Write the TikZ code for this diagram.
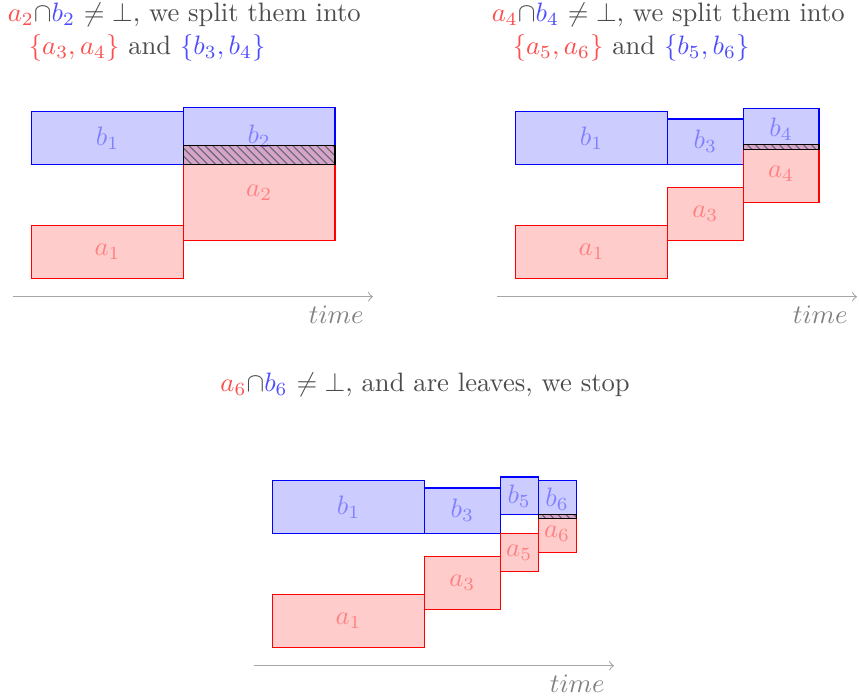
\documentclass[tikz,border=0pt]{standalone}
\usepackage{amsmath,amssymb}
\usetikzlibrary{patterns}

\tikzset{
  ajob/.style={draw=red, fill=red, fill opacity=0.2, text opacity=1, text=red!50, inner sep=0pt, outer sep=0pt},
  bjob/.style={draw=blue, fill=blue, fill opacity=0.2, text opacity=1, text=blue!50, inner sep=0pt, outer sep=0pt},
  overlap/.style={draw=black, pattern=north west lines, pattern color=black!60},
  timeline/.style={->, draw=black!35},
  timelabel/.style={text=black!50},
  caption/.style={anchor=base west, inner sep=0pt, text=black!70}
}
\newcommand{\ared}[1]{{\color{red!70}$#1$}}
\newcommand{\bblue}[1]{{\color{blue!70}$#1$}}

\begin{document}
\begin{tikzpicture}
\useasboundingbox (0,0) rectangle (11.333,-9.235);

% first split
\node[caption] (c1) at (0.097,-0.28) {\ared{a_2}$\cap$\bblue{b_2} $\neq\bot$, we split them into};
\node[caption] (c1b) at (0.374,-0.72) {\ared{\{a_3,a_4\}} and \bblue{\{b_3,b_4\}}};

\node[bjob, minimum width=2cm, minimum height=0.7cm] (b1) at (1.42,-1.82) {$b_1$};
\node[bjob, minimum width=2cm, minimum height=0.75cm] (b2) at (3.42,-1.795) {$b_2$};
\node[ajob, minimum width=2cm, minimum height=0.7cm] (a1) at (1.42,-3.32) {$a_1$};
\node[ajob, minimum width=2cm, minimum height=1.25cm] (a2) at (3.42,-2.545) {$a_2$};
\draw[overlap] (a2.north west) rectangle (b2.south east);

\coordinate (t0) at (0.17,-3.915);
\coordinate (t1) at (4.92,-3.915);
\draw[timeline] (t0) -- (t1) node[below left, timelabel] (tl) {$time$};

% second split
\begin{scope}[shift={(6.385,0)}]
\node[caption] (c2) at (0.097,-0.28) {\ared{a_4}$\cap$\bblue{b_4} $\neq\bot$, we split them into};
\node[caption] (c2b) at (0.374,-0.72) {\ared{\{a_5,a_6\}} and \bblue{\{b_5,b_6\}}};

\node[bjob, minimum width=2cm, minimum height=0.7cm] (b1r) at (1.42,-1.82) {$b_1$};
\node[bjob, minimum width=1cm, minimum height=0.6cm] (b3r) at (2.92,-1.87) {$b_3$};
\node[bjob, minimum width=1cm, minimum height=0.54cm] (b4r) at (3.92,-1.70) {$b_4$};
\node[ajob, minimum width=2cm, minimum height=0.7cm] (a1r) at (1.42,-3.32) {$a_1$};
\node[ajob, minimum width=1cm, minimum height=0.7cm] (a3r) at (2.92,-2.82) {$a_3$};
\node[ajob, minimum width=1cm, minimum height=0.76cm] (a4r) at (3.92,-2.29) {$a_4$};
\draw[overlap] (a4r.north west) rectangle (b4r.south east);

\coordinate (t0r) at (0.17,-3.915);
\coordinate (t1r) at (4.92,-3.915);
\draw[timeline] (t0r) -- (t1r) node[below left, timelabel] (tlr) {$time$};
\end{scope}

% leaves
\begin{scope}[shift={(3.18,-4.868)}]
\node[caption] (c3) at (-0.278,-0.299) {\ared{a_6}$\cap$\bblue{b_6} $\neq\bot$, and are leaves, we stop};

\node[bjob, minimum width=2cm, minimum height=0.7cm] (b1b) at (1.42,-1.82) {$b_1$};
\node[bjob, minimum width=1cm, minimum height=0.6cm] (b3b) at (2.92,-1.87) {$b_3$};
\node[bjob, minimum width=0.5cm, minimum height=0.5cm] (b5b) at (3.67,-1.675) {$b_5$};
\node[bjob, minimum width=0.5cm, minimum height=0.5cm] (b6b) at (4.17,-1.72) {$b_6$};
\node[ajob, minimum width=2cm, minimum height=0.7cm] (a1b) at (1.42,-3.32) {$a_1$};
\node[ajob, minimum width=1cm, minimum height=0.7cm] (a3b) at (2.92,-2.82) {$a_3$};
\node[ajob, minimum width=0.5cm, minimum height=0.5cm] (a5b) at (3.67,-2.42) {$a_5$};
\node[ajob, minimum width=0.5cm, minimum height=0.5cm] (a6b) at (4.17,-2.17) {$a_6$};
\draw[overlap] (a6b.north west) rectangle (b6b.south east);

\coordinate (t0b) at (0.17,-3.915);
\coordinate (t1b) at (4.92,-3.915);
\draw[timeline] (t0b) -- (t1b) node[below left, timelabel] (tlb) {$time$};
\end{scope}
\end{tikzpicture}
\end{document}
